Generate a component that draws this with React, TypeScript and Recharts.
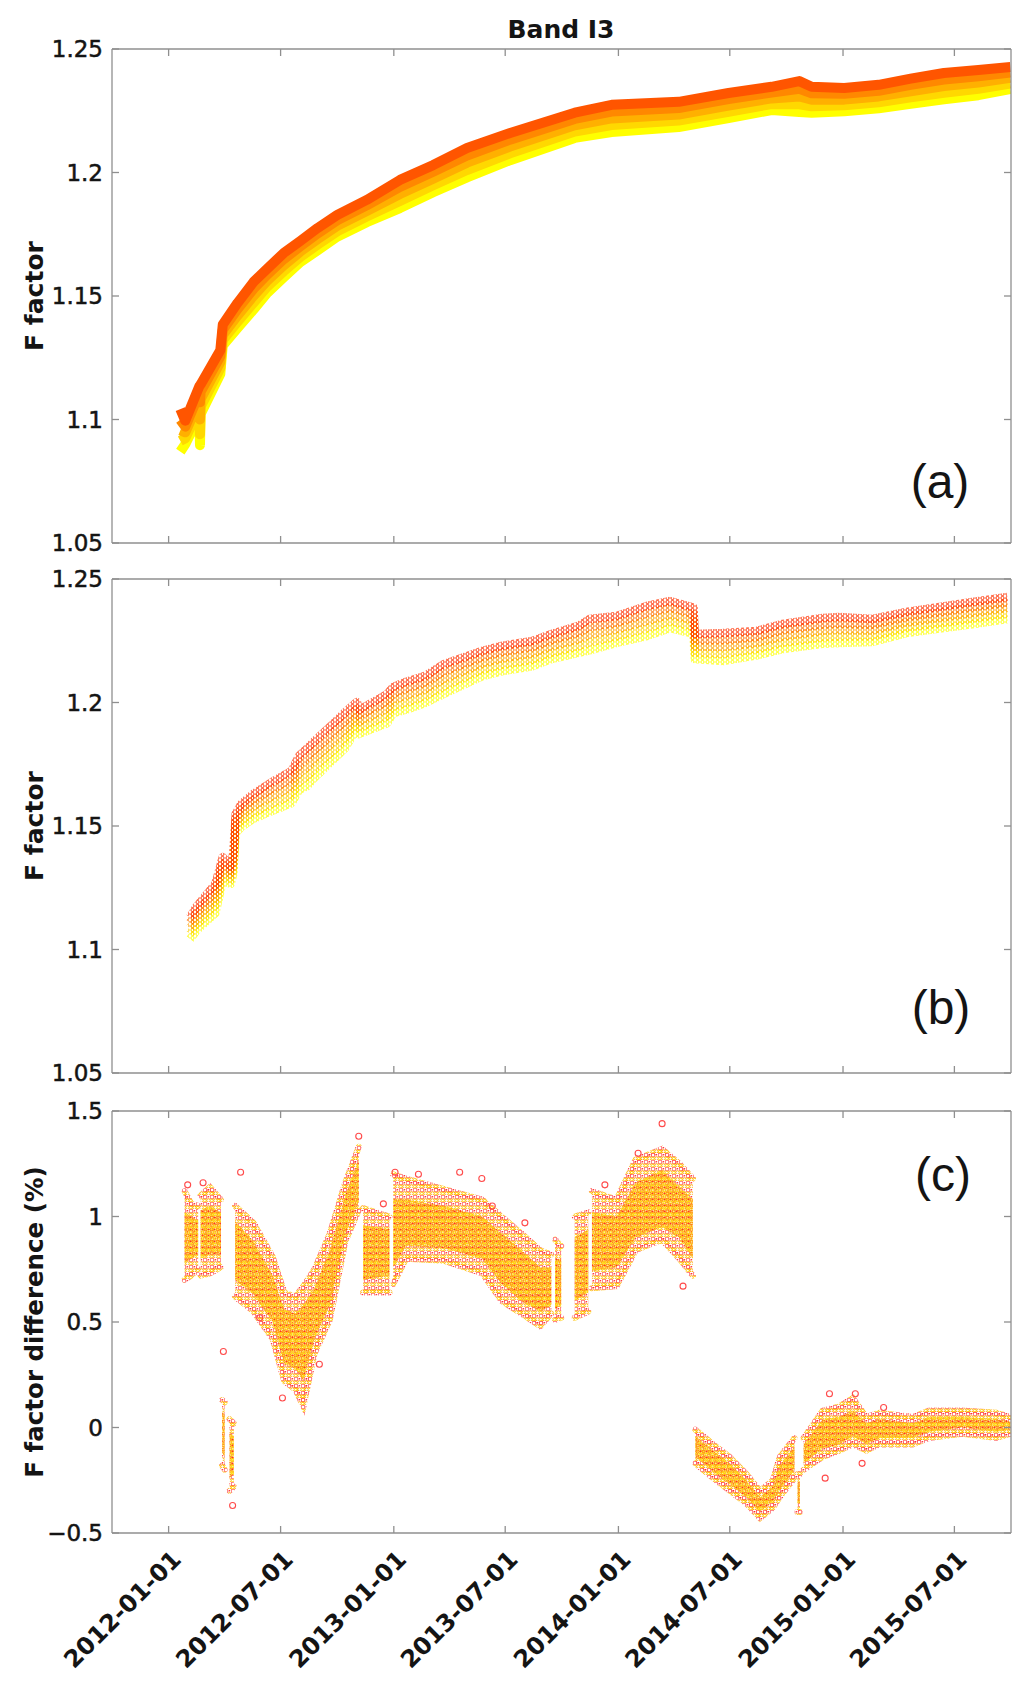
import React from "react";
import { LineChart, Line, ComposedChart, Area, Scatter, XAxis, YAxis } from "recharts";

// shared date axis
const xStart = "2011-10-01";
const xEnd = "2015-10-01";
const xTickDates = ["2012-01-01", "2012-07-01", "2013-01-01", "2013-07-01", "2014-01-01", "2014-07-01", "2015-01-01", "2015-07-01"];
const fTicks = [1.05, 1.1, 1.15, 1.2, 1.25];
const dTicks = [-0.5, 0, 0.5, 1, 1.5];
const aColors = ["#ff5500", "#ff8800", "#ffb000", "#ffd800", "#ffff00"];
const bColors = ["#ff3000", "#ff7000", "#ffa000", "#ffd000", "#ffff00"];

// panel (a): five detector lines, top (red) to bottom (yellow)
const aDates = ["2012-01-20", "2012-01-28", "2012-02-20", "2012-02-21", "2012-02-22", "2012-03-25", "2012-03-29", "2012-04-22", "2012-05-18", "2012-06-09", "2012-07-06", "2012-08-02", "2012-08-30", "2012-10-01", "2012-11-18", "2013-01-11", "2013-03-06", "2013-04-30", "2013-07-09", "2013-10-22", "2013-12-21", "2014-04-09", "2014-06-29", "2014-09-07", "2014-10-22", "2014-11-11", "2015-01-03", "2015-02-28", "2015-04-21", "2015-06-14", "2015-08-09", "2015-09-30"];
const aDet1 = [1.1042, 1.0995, 1.1135, 1.1138, 1.1142, 1.128, 1.1384, 1.1472, 1.1557, 1.161, 1.1674, 1.1723, 1.1775, 1.1828, 1.1889, 1.197, 1.203, 1.2099, 1.216, 1.2242, 1.2274, 1.2286, 1.2322, 1.2347, 1.237, 1.2347, 1.2342, 1.2355, 1.238, 1.2403, 1.2415, 1.2427];
const aDet2 = [1.0999, 1.0971, 1.1105, 1.107, 1.1112, 1.1256, 1.1363, 1.1447, 1.1529, 1.1586, 1.1649, 1.1701, 1.1753, 1.1806, 1.1867, 1.1942, 1.2003, 1.2069, 1.2133, 1.2217, 1.2247, 1.2261, 1.2297, 1.2324, 1.2339, 1.2321, 1.2319, 1.2331, 1.2355, 1.2376, 1.239, 1.2405];
const aDet3 = [1.0956, 1.0948, 1.1075, 1.1, 1.1082, 1.1232, 1.1342, 1.1421, 1.1501, 1.1561, 1.1624, 1.168, 1.173, 1.1784, 1.1844, 1.1913, 1.1975, 1.204, 1.2105, 1.2191, 1.2219, 1.2235, 1.2271, 1.23, 1.2308, 1.2295, 1.2295, 1.2308, 1.2329, 1.235, 1.2364, 1.2383];
const aDet4 = [1.0913, 1.0924, 1.1045, 1.094, 1.1052, 1.1208, 1.1321, 1.1396, 1.1473, 1.1537, 1.16, 1.1658, 1.1708, 1.1762, 1.1822, 1.1885, 1.1948, 1.201, 1.2078, 1.2166, 1.2192, 1.221, 1.2246, 1.2277, 1.2276, 1.2268, 1.2272, 1.2284, 1.2304, 1.2323, 1.2339, 1.236];
const aDet5 = [1.087, 1.09, 1.1015, 1.0896, 1.1022, 1.1184, 1.13, 1.137, 1.1445, 1.1512, 1.1575, 1.1637, 1.1685, 1.174, 1.1799, 1.1856, 1.192, 1.198, 1.205, 1.214, 1.2164, 1.2184, 1.222, 1.2253, 1.2245, 1.2242, 1.2248, 1.226, 1.2278, 1.2296, 1.2313, 1.2338];

// panel (b)
const bDates = ["2012-02-05", "2012-02-15", "2012-03-17", "2012-03-29", "2012-04-11", "2012-04-15", "2012-04-19", "2012-04-28", "2012-05-17", "2012-06-17", "2012-07-19", "2012-07-31", "2012-08-13", "2012-08-25", "2012-09-19", "2012-10-14", "2012-11-02", "2012-11-05", "2012-12-21", "2012-12-31", "2013-01-21", "2013-02-21", "2013-03-24", "2013-05-25", "2013-06-25", "2013-08-14", "2013-09-14", "2013-10-28", "2013-11-15", "2013-12-29", "2014-02-16", "2014-03-26", "2014-04-29", "2014-05-03", "2014-05-05", "2014-06-20", "2014-08-14", "2014-09-25", "2014-11-29", "2014-12-26", "2015-02-18", "2015-04-14", "2015-06-07", "2015-07-30", "2015-09-25"];
const bDet1 = [1.1131, 1.1172, 1.1265, 1.1374, 1.1334, 1.1389, 1.1548, 1.1589, 1.1629, 1.1678, 1.1723, 1.1784, 1.1814, 1.1844, 1.1901, 1.1961, 1.2002, 1.1969, 1.2034, 1.2063, 1.2084, 1.2108, 1.2156, 1.2209, 1.2229, 1.2249, 1.2277, 1.231, 1.2338, 1.235, 1.2391, 1.2411, 1.2387, 1.2384, 1.2277, 1.2281, 1.229, 1.2318, 1.2342, 1.2346, 1.2338, 1.2367, 1.2387, 1.2407, 1.2427];
const bDet2 = [1.1109, 1.1148, 1.1236, 1.135, 1.1317, 1.1368, 1.1529, 1.1566, 1.1604, 1.1649, 1.169, 1.1749, 1.1776, 1.1807, 1.1865, 1.1925, 1.1975, 1.1945, 1.2004, 1.2036, 1.2056, 1.2081, 1.2126, 1.2184, 1.2204, 1.2224, 1.2252, 1.2283, 1.2306, 1.2323, 1.2361, 1.2384, 1.2361, 1.2358, 1.2252, 1.2253, 1.2265, 1.2293, 1.2316, 1.232, 1.2315, 1.2346, 1.2365, 1.2385, 1.2405];
const bDet3 = [1.1087, 1.1124, 1.1206, 1.1326, 1.13, 1.1348, 1.151, 1.1543, 1.1579, 1.162, 1.1658, 1.1715, 1.1738, 1.177, 1.1828, 1.1888, 1.1949, 1.1921, 1.1975, 1.201, 1.2028, 1.2053, 1.2096, 1.2158, 1.2178, 1.2198, 1.2227, 1.2256, 1.2275, 1.2296, 1.233, 1.2356, 1.2334, 1.2331, 1.2227, 1.2225, 1.2241, 1.2267, 1.229, 1.2294, 1.2292, 1.2324, 1.2343, 1.2362, 1.2383];
const bDet4 = [1.1064, 1.11, 1.1177, 1.1302, 1.1283, 1.1327, 1.149, 1.1519, 1.1553, 1.159, 1.1625, 1.168, 1.1699, 1.1733, 1.1792, 1.1852, 1.1922, 1.1896, 1.1945, 1.1983, 1.1999, 1.2026, 1.2066, 1.2133, 1.2152, 1.2173, 1.2201, 1.2228, 1.2243, 1.2268, 1.23, 1.2329, 1.2308, 1.2305, 1.2201, 1.2196, 1.2216, 1.2242, 1.2264, 1.2267, 1.2268, 1.2303, 1.2321, 1.234, 1.236];
const bDet5 = [1.1042, 1.1076, 1.1147, 1.1278, 1.1266, 1.1306, 1.1471, 1.1496, 1.1528, 1.1561, 1.1593, 1.1646, 1.1661, 1.1696, 1.1755, 1.1816, 1.1896, 1.1872, 1.1916, 1.1957, 1.1971, 1.1998, 1.2036, 1.2107, 1.2126, 1.2147, 1.2176, 1.2201, 1.2211, 1.2241, 1.2269, 1.2301, 1.2281, 1.2278, 1.2176, 1.2168, 1.2191, 1.2216, 1.2238, 1.2241, 1.2245, 1.2281, 1.2299, 1.2317, 1.2338];

// panel (c): spread of the differences (outer) and the dense core, null = data gap
const cDates = ["2012-01-27", "2012-02-07", "2012-02-18", "2012-02-20", "2012-02-22", "2012-03-08", "2012-03-26", "2012-03-27", "2012-03-28", "2012-04-01", "2012-04-04", "2012-04-09", "2012-04-16", "2012-04-17", "2012-04-18", "2012-05-18", "2012-06-18", "2012-07-07", "2012-07-25", "2012-08-07", "2012-08-25", "2012-09-19", "2012-10-14", "2012-11-05", "2012-11-08", "2012-11-12", "2012-12-25", "2012-12-28", "2012-12-31", "2013-01-21", "2013-03-24", "2013-05-25", "2013-06-25", "2013-07-27", "2013-08-27", "2013-09-14", "2013-09-17", "2013-09-20", "2013-09-30", "2013-10-03", "2013-10-22", "2013-11-13", "2013-11-16", "2013-11-19", "2013-12-29", "2014-01-29", "2014-03-13", "2014-04-10", "2014-05-02", "2014-05-04", "2014-05-06", "2014-06-04", "2014-07-01", "2014-07-28", "2014-08-19", "2014-09-09", "2014-09-20", "2014-10-14", "2014-10-17", "2014-10-19", "2014-10-23", "2014-10-26", "2014-10-29", "2014-11-29", "2014-12-26", "2015-01-17", "2015-02-08", "2015-03-01", "2015-04-24", "2015-05-21", "2015-07-14", "2015-09-07", "2015-09-30"];
const cLow = [0.7, 0.72, 0.75, null, 0.72, 0.73, 0.76, null, -0.18, -0.2, null, -0.3, -0.28, null, 0.62, 0.55, 0.42, 0.22, 0.18, 0.1, 0.35, 0.51, 0.88, 1.03, null, 0.64, 0.64, null, 0.68, 0.8, 0.79, 0.73, 0.6, 0.54, 0.48, 0.54, null, 0.51, 0.52, null, 0.52, 0.55, null, 0.66, 0.67, 0.84, 0.89, 0.8, 0.72, null, -0.17, -0.24, -0.3, -0.36, -0.43, -0.38, -0.33, -0.24, null, -0.4, -0.4, null, -0.2, -0.14, -0.11, -0.08, -0.11, -0.08, -0.08, -0.05, -0.03, -0.05, -0.03];
const cHigh = [1.12, 1.06, 1.05, null, 1.1, 1.14, 1.08, null, 0.13, 0.12, null, 0.04, 0.02, null, 1.05, 0.97, 0.81, 0.64, 0.62, 0.67, 0.75, 0.92, 1.16, 1.33, null, 1.04, 1.0, null, 1.2, 1.18, 1.13, 1.08, 1.0, 0.92, 0.84, 0.82, null, 0.89, 0.86, null, 1.0, 1.02, null, 1.12, 1.08, 1.27, 1.32, 1.25, 1.18, null, -0.01, -0.08, -0.14, -0.22, -0.3, -0.25, -0.14, -0.05, null, -0.22, -0.22, null, -0.05, 0.08, 0.1, 0.14, 0.05, 0.07, 0.05, 0.08, 0.08, 0.07, 0.05];
const cCoreLow = [0.78, 0.8, 0.82, null, 0.8, 0.82, 0.82, null, -0.12, -0.14, null, -0.24, -0.22, null, 0.7, 0.63, 0.5, 0.3, 0.28, 0.22, 0.42, 0.58, 0.92, 1.07, null, 0.7, 0.72, null, 0.76, 0.86, 0.85, 0.8, 0.68, 0.6, 0.55, 0.58, null, 0.56, 0.58, null, 0.6, 0.64, null, 0.74, 0.76, 0.9, 0.95, 0.9, 0.8, null, -0.14, -0.21, -0.27, -0.33, -0.4, -0.35, -0.3, -0.2, null, -0.36, -0.36, null, -0.17, -0.1, -0.08, -0.04, -0.08, -0.05, -0.05, -0.02, 0.0, -0.02, -0.01];
const cCoreHigh = [1.02, 1.0, 0.98, null, 1.03, 1.05, 1.02, null, 0.08, 0.06, null, -0.02, -0.04, null, 0.98, 0.88, 0.72, 0.56, 0.54, 0.58, 0.66, 0.84, 1.1, 1.27, null, 0.96, 0.94, null, 1.08, 1.08, 1.05, 1.0, 0.92, 0.84, 0.76, 0.76, null, 0.8, 0.8, null, 0.9, 0.94, null, 1.02, 1.0, 1.16, 1.22, 1.14, 1.08, null, -0.04, -0.11, -0.17, -0.25, -0.33, -0.28, -0.18, -0.09, null, -0.26, -0.26, null, -0.08, 0.04, 0.05, 0.08, 0.02, 0.04, 0.02, 0.05, 0.05, 0.04, 0.03];
const cOutDates = ["2012-02-01", "2012-02-26", "2012-03-30", "2012-04-14", "2012-04-27", "2012-05-28", "2012-07-04", "2012-09-02", "2012-11-05", "2012-12-15", "2013-01-03", "2013-02-10", "2013-04-18", "2013-05-24", "2013-06-10", "2013-08-02", "2013-12-10", "2014-02-02", "2014-03-13", "2014-04-16", "2014-12-03", "2014-12-10", "2015-01-21", "2015-02-01", "2015-03-08"];
const cOutValues = [1.15, 1.16, 0.36, -0.37, 1.21, 0.52, 0.14, 0.3, 1.38, 1.06, 1.21, 1.2, 1.21, 1.18, 1.05, 0.97, 1.15, 1.3, 1.44, 0.67, -0.24, 0.16, 0.16, -0.17, 0.095];

const day = (s: string) => Date.parse(s + "T00:00:00Z");
const xDomain = [day(xStart), day(xEnd)];
const xTicks = xTickDates.map(day);

const detRows = (dates: string[], dets: number[][]) =>
  dates.map((d, i) => {
    const row: Record<string, number> = { t: day(d) };
    dets.forEach((arr, k) => (row["d" + (k + 1)] = arr[i]));
    return row;
  });
const aRows = detRows(aDates, [aDet1, aDet2, aDet3, aDet4, aDet5]);
const bRows = detRows(bDates, [bDet1, bDet2, bDet3, bDet4, bDet5]);
const cRows = cDates.map((d, i) => ({
  t: day(d),
  outer: cLow[i] == null ? null : [cLow[i], cHigh[i]],
  core: cCoreLow[i] == null ? null : [cCoreLow[i], cCoreHigh[i]],
}));
const cOutRows = cOutDates.map((d, i) => ({ t: day(d), v: cOutValues[i] }));

const AXIS = "#8f8f8f";
const INK = "#141414";
const FONT = "'DejaVu Sans', sans-serif";
const TICK = 7;

const fmtNum = (v: number) => (v < 0 ? "\u2212" : "") + String(Math.abs(Math.round(v * 1000) / 1000));
const fmtDate = (v: number) => new Date(v).toISOString().slice(0, 10);

function LeftTick({ x, y, payload }: any) {
  return (
    <g>
      <line x1={x} y1={y} x2={x + TICK} y2={y} stroke={AXIS} strokeWidth={1.3} />
      <text x={x - 9} y={y + 8} textAnchor="end" fontSize={23} fontFamily={FONT} fill={INK} stroke={INK} strokeWidth={0.5}>
        {fmtNum(payload.value)}
      </text>
    </g>
  );
}
function RightTick({ x, y }: any) {
  return <line x1={x} y1={y} x2={x - TICK} y2={y} stroke={AXIS} strokeWidth={1.3} />;
}
function TopTick({ x, y }: any) {
  return <line x1={x} y1={y} x2={x} y2={y + TICK} stroke={AXIS} strokeWidth={1.3} />;
}
function BottomTick({ x, y, payload, showLabel }: any) {
  const lx = x + 14;
  const ly = y + 28;
  return (
    <g>
      <line x1={x} y1={y} x2={x} y2={y - TICK} stroke={AXIS} strokeWidth={1.3} />
      {showLabel && (
        <text x={lx} y={ly} transform={`rotate(-45 ${lx} ${ly})`} textAnchor="end" fontSize={24} fontWeight="bold" fontFamily={FONT} fill={INK}>
          {fmtDate(payload.value)}
        </text>
      )}
    </g>
  );
}

// axes are 1px deep (recharts skips 0-sized axes), margins take that pixel back
function frame(yDomain: number[], yTicks: number[], dateLabels: boolean) {
  const line = { stroke: AXIS, strokeWidth: 1.3 };
  return [
    <XAxis key="xb" dataKey="t" type="number" domain={xDomain} ticks={xTicks} interval={0} allowDataOverflow height={1} tickSize={0} tickMargin={0} tickLine={false} axisLine={line} tick={(p: any) => <BottomTick {...p} showLabel={dateLabels} />} />,
    <XAxis key="xt" xAxisId="top" orientation="top" dataKey="t" type="number" domain={xDomain} ticks={xTicks} interval={0} allowDataOverflow height={1} tickSize={0} tickMargin={0} tickLine={false} axisLine={line} tick={(p: any) => <TopTick {...p} />} />,
    <YAxis key="yl" type="number" domain={yDomain} ticks={yTicks} interval={0} allowDataOverflow width={1} tickSize={0} tickMargin={0} tickLine={false} axisLine={line} tick={(p: any) => <LeftTick {...p} />} />,
    <YAxis key="yr" yAxisId="right" orientation="right" type="number" domain={yDomain} ticks={yTicks} interval={0} allowDataOverflow width={1} tickSize={0} tickMargin={0} tickLine={false} axisLine={line} tick={(p: any) => <RightTick {...p} />} />,
  ];
}

const order = [5, 4, 3, 2, 1];

function PanelA() {
  return (
    <LineChart width={1024} height={560} data={aRows} margin={{ top: 48, right: 12, bottom: 16, left: 111 }}>
      {frame([1.05, 1.25], fTicks, false)}
      {order.map((k) => (
        <Line key={k} type="linear" dataKey={`d${k}`} stroke={aColors[k - 1]} strokeWidth={10} strokeLinejoin="round" dot={false} activeDot={false} isAnimationActive={false} />
      ))}
    </LineChart>
  );
}

function PanelB() {
  return (
    <LineChart width={1024} height={530} data={bRows} margin={{ top: 18, right: 12, bottom: 16, left: 111 }}>
      <defs>
        {bColors.map((c, i) => (
          <pattern key={c} id={`bDot${i + 1}`} width={5} height={4} patternUnits="userSpaceOnUse">
            <circle cx={2.5} cy={2} r={1.6} fill="none" stroke={c} strokeWidth={1} />
          </pattern>
        ))}
      </defs>
      {frame([1.05, 1.25], fTicks, false)}
      {order.map((k) => (
        <Line key={k} type="linear" dataKey={`d${k}`} stroke={`url(#bDot${k})`} strokeWidth={8.5} strokeLinejoin="round" dot={false} activeDot={false} isAnimationActive={false} />
      ))}
    </LineChart>
  );
}

function PanelC() {
  return (
    <ComposedChart width={1024} height={596} data={cRows} margin={{ top: 20, right: 12, bottom: 152, left: 111 }}>
      <defs>
        <pattern id="cOuter" width={7} height={7} patternUnits="userSpaceOnUse">
          <circle cx={2} cy={2} r={2} fill="none" stroke="#ff4f4f" strokeWidth={1} />
          <circle cx={5.5} cy={5.5} r={1.8} fill="none" stroke="#ffa200" strokeWidth={1} />
          <circle cx={5.5} cy={1.8} r={0.8} fill="#ff2a2a" />
          <circle cx={1.8} cy={5.5} r={1.4} fill="none" stroke="#ffd000" strokeWidth={1} />
        </pattern>
        <pattern id="cCore" width={6} height={6} patternUnits="userSpaceOnUse">
          <rect width={6} height={6} fill="#ffc000" opacity={0.4} />
          <circle cx={1.6} cy={1.6} r={1.5} fill="none" stroke="#ff8a00" strokeWidth={1} />
          <circle cx={4.6} cy={4.4} r={1.5} fill="none" stroke="#ffe000" strokeWidth={1} />
          <circle cx={4.6} cy={1.4} r={0.9} fill="#ff3a1a" />
          <circle cx={1.4} cy={4.7} r={0.7} fill="#ffb000" />
        </pattern>
      </defs>
      {frame([-0.5, 1.5], dTicks, true)}
      <Area type="linear" dataKey="outer" stroke="url(#cOuter)" strokeWidth={6} strokeLinecap="round" fill="url(#cOuter)" fillOpacity={1} dot={false} activeDot={false} isAnimationActive={false} />
      <Area type="linear" dataKey="core" stroke="none" fill="url(#cCore)" fillOpacity={1} dot={false} activeDot={false} isAnimationActive={false} />
      <Scatter data={cOutRows} dataKey="v" isAnimationActive={false} shape={(p: any) => <circle cx={p.cx} cy={p.cy} r={3} fill="none" stroke="#ff4a4a" strokeWidth={1.1} />} />
    </ComposedChart>
  );
}

export default function App() {
  return (
    <div style={{ position: "relative", width: 1024, height: 1686, background: "#fff", overflow: "hidden" }}>
      <style>{"body{margin:0}"}</style>
      <div style={{ position: "absolute", left: 0, top: 0 }}>
        <PanelA />
      </div>
      <div style={{ position: "absolute", left: 0, top: 560 }}>
        <PanelB />
      </div>
      <div style={{ position: "absolute", left: 0, top: 1090 }}>
        <PanelC />
      </div>
      <svg width={1024} height={1686} style={{ position: "absolute", left: 0, top: 0, pointerEvents: "none" }} fontFamily={FONT} fill={INK}>
        <text x={561} y={38} textAnchor="middle" fontSize={25} fontWeight="bold">Band I3</text>
        <text transform="translate(43 296) rotate(-90)" textAnchor="middle" fontSize={25} fontWeight="bold">F factor</text>
        <text transform="translate(43 826) rotate(-90)" textAnchor="middle" fontSize={25} fontWeight="bold">F factor</text>
        <text transform="translate(43 1322) rotate(-90)" textAnchor="middle" fontSize={24.5} fontWeight="bold">F factor difference (%)</text>
        <text x={940} y={498} textAnchor="middle" fontSize={48} fontFamily="'Liberation Sans', sans-serif">(a)</text>
        <text x={941} y={1024} textAnchor="middle" fontSize={48} fontFamily="'Liberation Sans', sans-serif">(b)</text>
        <text x={943} y={1191} textAnchor="middle" fontSize={48} fontFamily="'Liberation Sans', sans-serif">(c)</text>
      </svg>
    </div>
  );
}
